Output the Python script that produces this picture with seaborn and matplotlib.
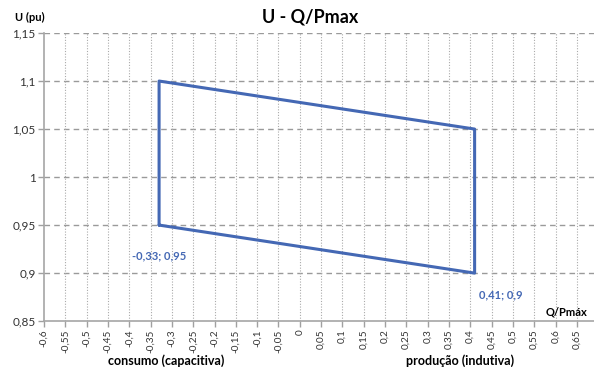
import numpy as np
import pandas as pd
import matplotlib
matplotlib.use("Agg")
import matplotlib.pyplot as plt
import seaborn as sns

# Operating envelope vertices (closed polygon)
q_pmax = [-0.33, -0.33, 0.41, 0.41, -0.33]
u_pu = [0.95, 1.10, 1.05, 0.90, 0.95]

x_ticks = [round(v, 2) for v in np.arange(-0.60, 0.651, 0.05)]
y_ticks = [0.85, 0.90, 0.95, 1.00, 1.05, 1.10, 1.15]

def fmt(v):
    s = f"{v:.2f}".rstrip("0").rstrip(".")
    if s in ("-0", "0"):
        s = "0"
    return s.replace(".", ",")

sns.set_theme(style="white")
plt.rcParams["font.family"] = ["Lato", "DejaVu Sans"]

fig = plt.figure(figsize=(5.94, 3.67), dpi=100)
ax = fig.add_axes([0.074, 0.125, 0.926, 0.785])

df = pd.DataFrame({"q": q_pmax, "u": u_pu, "order": range(len(q_pmax))})
sns.lineplot(data=df, x="q", y="u", sort=False, estimator=None,
             color="#4468B4", linewidth=2.2, ax=ax)

ax.set_xlim(-0.6, 0.69)
ax.set_ylim(0.85, 1.15)
ax.set_xticks(x_ticks)
ax.set_xticklabels([fmt(v) for v in x_ticks], rotation=90, fontsize=7.2, color="#333333")
ax.set_yticks(y_ticks)
ax.set_yticklabels([fmt(v) for v in y_ticks], fontsize=8.5, color="#333333")
ax.tick_params(axis="both", length=4, width=1, color="#A0A0A0", pad=2,
               bottom=True, left=True)

# gridlines: dashed horizontals, dotted verticals
for y in y_ticks[1:]:
    ax.axhline(y, color="#9A9A9A", linestyle=(0, (4, 3)), linewidth=1.0, zorder=0)
for x in x_ticks[1:]:
    ax.axvline(x, color="#AAAAAA", linestyle=(0, (1, 1.5)), linewidth=0.8, zorder=0)

for side in ("top", "right"):
    ax.spines[side].set_visible(False)
for side in ("left", "bottom"):
    ax.spines[side].set_color("#A6A6A6")
    ax.spines[side].set_linewidth(1.2)

ax.set_xlabel("")
ax.set_ylabel("")

# point annotations
ax.annotate(f"{fmt(q_pmax[0])}; {fmt(u_pu[0])}", (q_pmax[0], u_pu[0]),
            xytext=(0, -22), textcoords="offset points", ha="center", va="center",
            fontsize=8, fontweight="bold", color="#4468B4")
ax.annotate(f"{fmt(q_pmax[3])}; {fmt(u_pu[3])}", (q_pmax[3], u_pu[3]),
            xytext=(3, -16), textcoords="offset points", ha="left", va="center",
            fontsize=8, fontweight="bold", color="#4468B4")

fig.text(0.522, 0.955, "U - Q/Pmax", ha="center", va="center",
         fontsize=13, fontweight="bold", color="#000000")
fig.text(0.050, 0.952, "U (pu)", ha="center", va="center",
         fontsize=8, fontweight="bold", color="#000000")
fig.text(0.953, 0.150, "Q/Pmáx", ha="center", va="center",
         fontsize=8, fontweight="bold", color="#000000")
fig.text(0.280, 0.016, "consumo (capacitiva)", ha="center", va="center",
         fontsize=9, fontweight="bold", color="#000000")
fig.text(0.775, 0.016, "produção (indutiva)", ha="center", va="center",
         fontsize=9, fontweight="bold", color="#000000")

fig.savefig("out.png", dpi=100)
